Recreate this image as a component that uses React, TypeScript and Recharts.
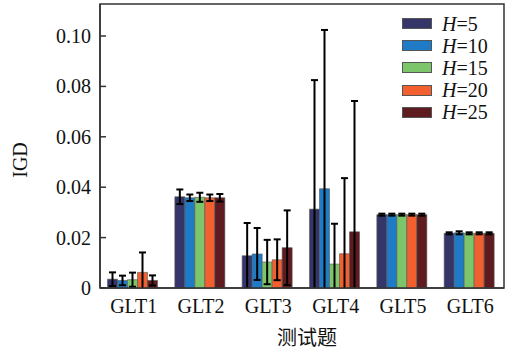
import { BarChart, Bar, XAxis, YAxis, ErrorBar, Legend, ReferenceArea } from "recharts";

// test problems
const categories = ["GLT1", "GLT2", "GLT3", "GLT4", "GLT5", "GLT6"];

// mean IGD per horizon H
const h5 = [0.0035, 0.0362, 0.0128, 0.0313, 0.0291, 0.0217];
const h10 = [0.003, 0.0358, 0.0135, 0.0394, 0.0291, 0.0219];
const h15 = [0.0033, 0.036, 0.0103, 0.0095, 0.0291, 0.0217];
const h20 = [0.0062, 0.0358, 0.0112, 0.0136, 0.0291, 0.0217];
const h25 = [0.003, 0.0358, 0.016, 0.0223, 0.0291, 0.0217];

// standard deviations (error bars)
const h5Err = [0.0027, 0.0029, 0.013, 0.0512, 0.0004, 0.0004];
const h10Err = [0.0019, 0.0013, 0.0103, 0.063, 0.0004, 0.0006];
const h15Err = [0.0028, 0.0018, 0.0088, 0.016, 0.0004, 0.0004];
const h20Err = [0.0079, 0.0013, 0.0081, 0.03, 0.0004, 0.0004];
const h25Err = [0.002, 0.0015, 0.0148, 0.0519, 0.0004, 0.0004];

const yTicks = [0, 0.02, 0.04, 0.06, 0.08, 0.1];

const seriesNames = ["5", "10", "15", "20", "25"];
const seriesColors = ["#35356a", "#1f7bc5", "#7cc56a", "#f26030", "#5e1c20"];

const data = categories.map((name, i) => ({
  name,
  h5: h5[i],
  h10: h10[i],
  h15: h15[i],
  h20: h20[i],
  h25: h25[i],
  h5Err: h5Err[i],
  h10Err: h10Err[i],
  h15Err: h15Err[i],
  h20Err: h20Err[i],
  h25Err: h25Err[i],
}));

const serif = "Liberation Serif, DejaVu Serif, serif";
const axisColor = "#333";

const YTick = (props: any) => {
  const { x, y, payload } = props;
  const v = payload.value;
  const label = v === 0 ? "0" : v.toFixed(2);
  return (
    <g>
      <line x1={x + 9} x2={x + 15} y1={y} y2={y} stroke={axisColor} strokeWidth={1.5} />
      <text x={x} y={y} dy="0.35em" textAnchor="end" fontSize={20} fontFamily={serif} fill="#111">
        {label}
      </text>
    </g>
  );
};

const LegendBox = () => (
  <div style={{ fontFamily: serif, fontSize: 20, color: "#111" }}>
    {seriesNames.map((n, i) => (
      <div key={n} style={{ display: "flex", alignItems: "center", height: 22.2 }}>
        <span
          style={{
            display: "inline-block",
            width: 28,
            height: 9,
            background: seriesColors[i],
            border: "0.6px solid #555",
            marginRight: 10,
          }}
        />
        <span style={{ lineHeight: 1 }}>
          <i>H</i>={n}
        </span>
      </div>
    ))}
  </div>
);

export default function App() {
  const keys = ["h5", "h10", "h15", "h20", "h25"];
  return (
    <div style={{ position: "absolute", left: 0, top: 0, background: "#fff" }}>
      <BarChart
        width={515}
        height={354}
        data={data}
        margin={{ top: 4, right: 11, left: 0, bottom: 0 }}
        barCategoryGap={7.5}
        barGap={0}
      >
        <defs>
          <clipPath id="igd-plot-clip">
            <rect x={100} y={0} width={404} height={288} />
          </clipPath>
        </defs>
        <XAxis
          dataKey="name"
          height={66}
          tickLine={false}
          tickSize={0}
          tickMargin={11}
          axisLine={{ stroke: axisColor, strokeWidth: 1.5 }}
          tick={{ fontSize: 20, fontFamily: serif, fill: "#111" }}
          label={{
            content: () => (
              <text x={307} y={345} textAnchor="middle" fontSize={20} fontFamily="Noto Sans CJK SC, sans-serif" fill="#111">
                测试题
              </text>
            ),
          }}
        />
        <YAxis
          width={100}
          domain={[0, 0.1127]}
          allowDataOverflow
          ticks={yTicks}
          tickLine={false}
          tickSize={0}
          tickMargin={9}
          axisLine={{ stroke: axisColor, strokeWidth: 1.5 }}
          tick={<YTick />}
          label={{
            content: () => (
              <text x={20} y={160} textAnchor="middle" dominantBaseline="central" fontSize={20} fontFamily={serif} fill="#111" transform="rotate(-90 20 160)">
                IGD
              </text>
            ),
          }}
        />
        <ReferenceArea y1={0} y2={0.1127} fill="none" stroke={axisColor} strokeWidth={1.5} ifOverflow="visible" />
        <Legend
          layout="vertical"
          align="center"
          verticalAlign="middle"
          wrapperStyle={{ position: "absolute", left: 402, top: 12.5, width: 110 }}
          content={() => <LegendBox />}
        />
        {keys.map((k, i) => (
          <Bar
            key={k}
            dataKey={k}
            name={"H=" + seriesNames[i]}
            fill={seriesColors[i]}
            stroke="#555"
            strokeWidth={0.6}
            isAnimationActive={false}
          >
            <ErrorBar
              dataKey={k + "Err"}
              width={3.5}
              stroke="#000"
              strokeWidth={2}
              direction="y"
              clipPath="url(#igd-plot-clip)"
              isAnimationActive={false}
            />
          </Bar>
        ))}
      </BarChart>
    </div>
  );
}
